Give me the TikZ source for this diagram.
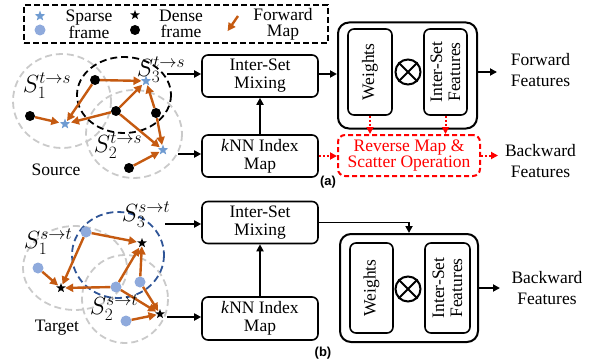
\documentclass[tikz,border=0pt]{standalone}
\usepackage{fontspec}
\setmainfont{Liberation Serif}
\newfontfamily\tagfont{Liberation Sans}
\usetikzlibrary{arrows.meta,shapes.geometric}
\definecolor{fwdorange}{HTML}{C55A11}
\definecolor{sparseblue}{HTML}{8FAADC}
\definecolor{starblue}{HTML}{6F9BD1}
\definecolor{setblue}{HTML}{2F5597}
\definecolor{setgray}{HTML}{CACACA}
\tikzset{
  txt/.style={font=\fontsize{17.5}{18}\selectfont, align=center, inner sep=1pt},
  blk/.style={txt, draw, line width=1.6pt, rounded corners=6pt, minimum width=116pt, minimum height=42pt},
  holder/.style={draw, line width=2pt, rounded corners=11pt, minimum width=139pt, minimum height=106pt},
  inbox/.style={txt, draw, line width=1.6pt, rounded corners=6pt, rotate=90, minimum width=86pt, minimum height=44pt},
  otimes/.style={draw, circle, line width=2pt, minimum size=25pt, inner sep=0pt},
  arr/.style={line width=1.8pt, -{Triangle[length=7pt,width=7pt]}},
  redarr/.style={red, line width=2pt, dash pattern=on 2pt off 2pt, -{Triangle[length=7pt,width=7pt]}},
  fwd/.style={fwdorange, line width=2.4pt, -{Triangle[length=8pt,width=8pt]}, shorten >=1pt},
  sstar/.style={star, star points=5, star point ratio=2.4, fill=starblue, minimum size=11pt, inner sep=0pt},
  dstar/.style={star, star points=5, star point ratio=2.4, fill=black, minimum size=10pt, inner sep=0pt},
  sdot/.style={circle, fill=sparseblue, minimum size=11pt, inner sep=0pt},
  ddot/.style={circle, fill=black, minimum size=10pt, inner sep=0pt},
  grayset/.style={setgray, line width=1.8pt, dash pattern=on 7pt off 4pt},
  lab/.style={font=\fontsize{24}{24}\selectfont, inner sep=0pt},
  tag/.style={font=\tagfont\bfseries\fontsize{13}{13}\selectfont, inner sep=0pt},
}
\begin{document}
\begin{tikzpicture}[x=1pt, y=-1pt]
\useasboundingbox (0,0) rectangle (597,361);
% legend
\node[draw, line width=2pt, dash pattern=on 6pt off 3pt, minimum width=304pt, minimum height=38pt] (legend) at (176,24) {};
\node[sstar] (legss) at (40,16) {};
\node[sdot] (legsd) at (40,30) {};
\node[txt, font=\fontsize{17.5}{16}\selectfont] (legsparse) at (89,24) {Sparse\\frame};
\node[dstar] (legds) at (135,15) {};
\node[ddot] (legdd) at (135,30) {};
\node[txt, font=\fontsize{17.5}{16}\selectfont] (legdense) at (181,24) {Dense\\frame};
\coordinate (legfrom) at (238,16);
\coordinate (legto) at (227,32);
\draw[fwd] (legfrom) -- (legto);
\node[txt, font=\fontsize{17.5}{16}\selectfont] (legmap) at (283,24) {Forward\\Map};

% (a) source sets
\draw[grayset] (62,101) ellipse [x radius=49, y radius=47];
\draw[grayset] (134,134) ellipse [x radius=48, y radius=44];
\draw[black, line width=1.8pt, dash pattern=on 7pt off 4pt] (124,95) ellipse [x radius=47, y radius=38];
\node[ddot] (a1) at (30,116) {};
\node[ddot] (a2) at (95,80) {};
\node[ddot] (a3) at (116,111) {};
\node[ddot] (a4) at (156,113) {};
\node[ddot] (a5) at (129,168) {};
\node[sstar] (p1) at (65,124) {};
\node[sstar] (p3) at (146,81) {};
\node[sstar] (p2) at (163,150) {};
\draw[fwd] (a1) -- (p1);
\draw[fwd] (a2) -- (p1);
\draw[fwd] (a2) -- (p3);
\draw[fwd] (a3) -- (p1);
\draw[fwd] (a3) -- (p3);
\draw[fwd] (a3) -- (p2);
\draw[fwd] (a4) -- (p3);
\draw[fwd] (a4) -- (p2);
\draw[fwd] (a5) -- (p2);
\node[lab] (s1a) at (47,86) {$S_1^{t\to s}$};
\node[lab] (s2a) at (118,146) {$S_2^{t\to s}$};
\node[lab] (s3a) at (161,70) {$S_3^{t\to s}$};
\node[txt] (source) at (56,170) {Source};

% (a) pipeline
\node[blk] (mixa) at (260,76) {Inter-Set\\Mixing};
\node[blk] (knna) at (260,156) {\textit{k}NN Index\\Map};
\node[holder] (wa) at (407.5,75.5) {};
\node[inbox] (weia) at (370,72) {Weights};
\node[inbox, minimum height=43pt] (feaa) at (445.5,72) {Inter-Set\\Features};
\node[otimes] (oxa) at (408,72) {};
\draw[line width=2pt] (oxa.north west) -- (oxa.south east) (oxa.north east) -- (oxa.south west);
\node[txt, draw=red, text=red, line width=2pt, dash pattern=on 5pt off 3pt, rounded corners=7pt, minimum width=142pt, minimum height=41pt, font=\fontsize{17.5}{16}\selectfont] (reva) at (409,155.5) {Reverse Map \&\\Scatter Operation};
\coordinate (ina1) at (167,74);
\coordinate (ina2) at (178,154);
\draw[arr] (ina1) -- (ina1 -| mixa.west);
\draw[arr] (ina2) -- (ina2 -| knna.west);
\draw[arr] (knna) -- (mixa);
\draw[arr] (mixa.east |- ina1) -- (mixa.east |- ina1 -| wa.west);
\coordinate (outa1) at (497,72);
\coordinate (outa2) at (498,155.5);
\draw[arr] (outa1 -| wa.east) -- (outa1);
\node[txt, font=\fontsize{17.5}{21}\selectfont] (fwdfeat) at (540.5,70.5) {Forward\\Features};
\draw[redarr] (weia.west) -- (weia.west |- reva.north);
\draw[redarr] (feaa.west) -- (feaa.west |- reva.north);
\draw[redarr] (knna.east) -- (knna.east -| reva.west);
\draw[redarr] (reva.east) -- (outa2);
\node[txt, font=\fontsize{17.5}{21}\selectfont] (bwdfeata) at (540.5,161) {Backward\\Features};
\node[tag] (taga) at (328,182) {(a)};

% (b) target sets
\draw[grayset] (75,268) ellipse [x radius=52, y radius=42];
\draw[grayset] (125,299) ellipse [x radius=43, y radius=44];
\draw[setblue, line width=1.8pt, dash pattern=on 7pt off 4pt] (118,255) ellipse [x radius=46, y radius=43];
\node[sdot] (b1) at (38,268) {};
\node[sdot] (b2) at (86,232) {};
\node[sdot] (b3) at (116,287) {};
\node[sdot] (b4) at (140,282) {};
\node[sdot] (b5) at (126,321) {};
\node[dstar] (t1) at (61,288) {};
\node[dstar] (t3) at (142,243) {};
\node[dstar] (t2) at (160,314) {};
\draw[fwd] (b1) -- (t1);
\draw[fwd] (b2) -- (t1);
\draw[fwd] (b2) -- (t3);
\draw[fwd] (b3) -- (t1);
\draw[fwd] (b3) -- (t3);
\draw[fwd] (b3) -- (t2);
\draw[fwd] (b4) -- (t3);
\draw[fwd] (b4) -- (t2);
\draw[fwd] (b5) -- (t2);
\node[lab] (s1b) at (48,242) {$S_1^{s\to t}$};
\node[lab] (s2b) at (114,308) {$S_2^{s\to t}$};
\node[lab] (s3b) at (146,215) {$S_3^{s\to t}$};
\node[txt] (target) at (57,328) {Target};

% (b) pipeline
\node[blk] (mixb) at (260,222.5) {Inter-Set\\Mixing};
\node[blk, minimum height=43pt] (knnb) at (260,318.5) {\textit{k}NN Index\\Map};
\node[holder, minimum height=108pt, minimum width=138pt] (wb) at (409,288) {};
\node[inbox, minimum width=90pt, minimum height=43pt] (weib) at (371.5,288) {Weights};
\node[inbox, minimum width=90pt, minimum height=45pt] (feab) at (447.5,288) {Inter-Set\\Features};
\node[otimes] (oxb) at (408,289) {};
\draw[line width=2pt] (oxb.north west) -- (oxb.south east) (oxb.north east) -- (oxb.south west);
\coordinate (inb1) at (165,224);
\coordinate (inb2) at (167,317);
\draw[arr] (inb1) -- (inb1 -| mixb.west);
\draw[arr] (inb2) -- (inb2 -| knnb.west);
\draw[arr] (knnb) -- (mixb);
\draw[arr] (mixb.east) -| (wb.north);
\coordinate (outb) at (500,288);
\draw[arr] (wb.east) -- (outb);
\node[txt, font=\fontsize{17.5}{21}\selectfont] (bwdfeatb) at (547,288) {Backward\\Features};
\node[tag] (tagb) at (323,353) {(b)};
\end{tikzpicture}
\end{document}
